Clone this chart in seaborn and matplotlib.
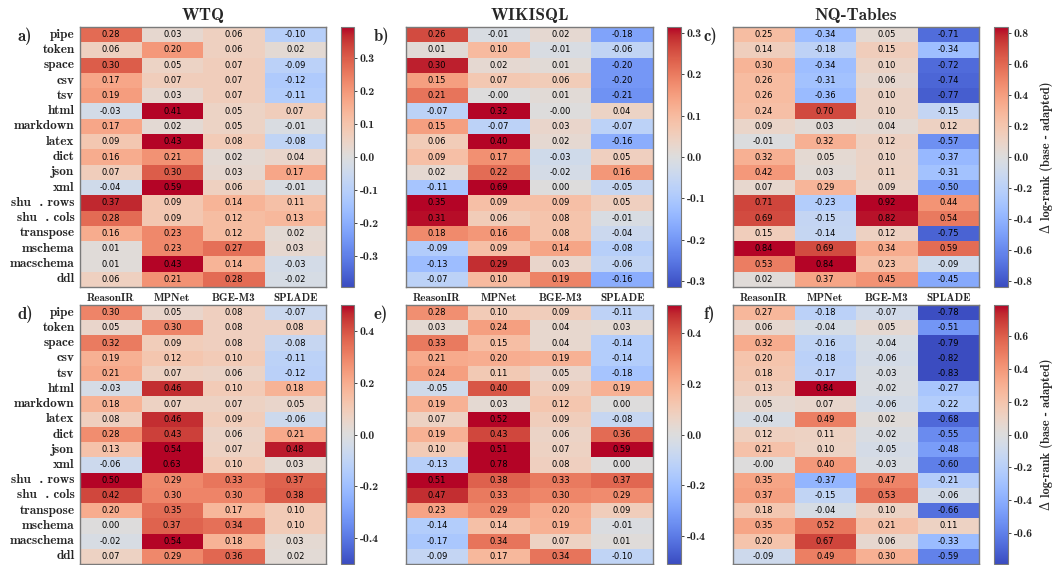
import numpy as np
import pandas as pd
import matplotlib
matplotlib.use("Agg")
import matplotlib.pyplot as plt
import seaborn as sns

sns.set_style("white")
plt.rcParams["font.family"] = ["cmb10", "DejaVu Serif"]
plt.rcParams["axes.unicode_minus"] = False

formats = ["pipe", "token", "space", "csv", "tsv", "html", "markdown", "latex",
           "dict", "json", "xml", "shu  . rows", "shu  . cols", "transpose",
           "mschema", "macschema", "ddl"]
models = ["ReasonIR", "MPNet", "BGE-M3", "SPLADE"]
datasets = ["WTQ", "WIKISQL", "NQ-Tables"]

# top row
wtq_top = [
    [0.28, 0.03, 0.06, -0.10], [0.06, 0.20, 0.06, 0.02], [0.30, 0.05, 0.07, -0.09],
    [0.17, 0.07, 0.07, -0.12], [0.19, 0.03, 0.07, -0.11], [-0.03, 0.41, 0.05, 0.07],
    [0.17, 0.02, 0.05, -0.01], [0.09, 0.43, 0.08, -0.08], [0.16, 0.21, 0.02, 0.04],
    [0.07, 0.30, 0.03, 0.17], [-0.04, 0.59, 0.06, -0.01], [0.37, 0.09, 0.14, 0.11],
    [0.28, 0.09, 0.12, 0.13], [0.16, 0.23, 0.12, 0.02], [0.01, 0.23, 0.27, 0.03],
    [0.01, 0.43, 0.14, -0.03], [0.06, 0.21, 0.28, -0.02]]
wikisql_top = [
    [0.26, -0.01, 0.02, -0.18], [0.01, 0.10, -0.01, -0.06], [0.30, 0.02, 0.01, -0.20],
    [0.15, 0.07, 0.06, -0.20], [0.21, -0.0, 0.01, -0.21], [-0.07, 0.32, -0.0, 0.04],
    [0.15, -0.07, 0.03, -0.07], [0.06, 0.40, 0.02, -0.16], [0.09, 0.17, -0.03, 0.05],
    [0.02, 0.22, -0.02, 0.16], [-0.11, 0.69, 0.00, -0.05], [0.35, 0.09, 0.09, 0.05],
    [0.31, 0.06, 0.08, -0.01], [0.18, 0.16, 0.08, -0.04], [-0.09, 0.09, 0.14, -0.08],
    [-0.13, 0.29, 0.03, -0.06], [-0.07, 0.10, 0.19, -0.16]]
nq_top = [
    [0.25, -0.34, 0.05, -0.71], [0.14, -0.18, 0.15, -0.34], [0.30, -0.34, 0.10, -0.72],
    [0.26, -0.31, 0.06, -0.74], [0.26, -0.36, 0.10, -0.77], [0.24, 0.70, 0.10, -0.15],
    [0.09, 0.03, 0.04, 0.12], [-0.01, 0.32, 0.12, -0.57], [0.32, 0.05, 0.10, -0.37],
    [0.42, 0.03, 0.11, -0.31], [0.07, 0.29, 0.09, -0.50], [0.71, -0.23, 0.92, 0.44],
    [0.69, -0.15, 0.82, 0.54], [0.15, -0.14, 0.12, -0.75], [0.84, 0.69, 0.34, 0.59],
    [0.53, 0.84, 0.23, -0.09], [0.02, 0.37, 0.45, -0.45]]

# bottom row
wtq_bottom = [
    [0.30, 0.05, 0.08, -0.07], [0.05, 0.30, 0.08, 0.08], [0.32, 0.09, 0.08, -0.08],
    [0.19, 0.12, 0.10, -0.11], [0.21, 0.07, 0.06, -0.12], [-0.03, 0.46, 0.10, 0.18],
    [0.18, 0.07, 0.07, 0.05], [0.08, 0.46, 0.09, -0.06], [0.28, 0.43, 0.06, 0.21],
    [0.13, 0.54, 0.07, 0.48], [-0.06, 0.63, 0.10, 0.03], [0.50, 0.29, 0.33, 0.37],
    [0.42, 0.30, 0.30, 0.38], [0.20, 0.35, 0.17, 0.10], [0.00, 0.37, 0.34, 0.10],
    [-0.02, 0.54, 0.18, 0.03], [0.07, 0.29, 0.36, 0.02]]
wikisql_bottom = [
    [0.28, 0.10, 0.09, -0.11], [0.03, 0.24, 0.04, 0.03], [0.33, 0.15, 0.04, -0.14],
    [0.21, 0.20, 0.19, -0.14], [0.24, 0.11, 0.05, -0.18], [-0.05, 0.40, 0.09, 0.19],
    [0.19, 0.03, 0.12, 0.00], [0.07, 0.52, 0.09, -0.08], [0.19, 0.43, 0.06, 0.36],
    [0.10, 0.51, 0.07, 0.59], [-0.13, 0.78, 0.08, 0.00], [0.51, 0.38, 0.33, 0.37],
    [0.47, 0.33, 0.30, 0.29], [0.23, 0.29, 0.20, 0.09], [-0.14, 0.14, 0.19, -0.01],
    [-0.17, 0.34, 0.07, 0.01], [-0.09, 0.17, 0.34, -0.10]]
nq_bottom = [
    [0.27, -0.18, -0.07, -0.78], [0.06, -0.04, 0.05, -0.51], [0.32, -0.16, -0.04, -0.79],
    [0.20, -0.18, -0.06, -0.82], [0.18, -0.17, -0.03, -0.83], [0.13, 0.84, -0.02, -0.27],
    [0.05, 0.07, -0.06, -0.22], [-0.04, 0.49, 0.02, -0.68], [0.12, 0.11, -0.02, -0.55],
    [0.21, 0.10, -0.05, -0.48], [-0.0, 0.40, -0.03, -0.60], [0.35, -0.37, 0.47, -0.21],
    [0.37, -0.15, 0.53, -0.06], [0.18, -0.04, 0.10, -0.66], [0.35, 0.52, 0.21, 0.11],
    [0.20, 0.67, 0.06, -0.33], [-0.09, 0.49, 0.30, -0.59]]

# symmetric colour limits per panel
limits = [0.395, 0.315, 0.84, 0.50, 0.51, 0.79]
panel_tags = ["a)", "b)", "c)", "d)", "e)", "f)"]

W, H = 1054, 565
fig = plt.figure(figsize=(W / 100, H / 100), dpi=100)


def px_axes(x0, y0, x1, y1):
    return fig.add_axes([x0 / W, 1 - y1 / H, (x1 - x0) / W, (y1 - y0) / H])


heat_x = [(80, 326), (406, 653), (733, 979)]
cbar_x = [(341, 354), (667, 681), (994, 1008)]
tag_xs = [17, 374, 704]
row_y = [(27, 287), (305, 564)]
tables = [[wtq_top, wikisql_top, nq_top], [wtq_bottom, wikisql_bottom, nq_bottom]]

for r in range(2):
    for c in range(3):
        k = r * 3 + c
        ax = px_axes(heat_x[c][0], row_y[r][0], heat_x[c][1], row_y[r][1])
        cax = px_axes(cbar_x[c][0], row_y[r][0], cbar_x[c][1], row_y[r][1])
        df = pd.DataFrame(np.array(tables[r][c], dtype=float), index=formats, columns=models)
        v = limits[k]
        sns.heatmap(df, ax=ax, cbar_ax=cax, cmap="coolwarm", vmin=-v, vmax=v,
                    annot=True, fmt=".2f",
                    annot_kws={"size": 6, "color": "black", "family": "DejaVu Sans"})
        for s in ax.spines.values():
            s.set_visible(True)
            s.set_color("#7a7a7a")
            s.set_linewidth(1.0)
        ax.tick_params(axis="y", length=2.5, width=0.6, pad=1.5, labelsize=9.5)
        ax.tick_params(axis="x", length=2.5, width=0.6, pad=1.5, labelsize=8)
        ax.set_xlabel("")
        ax.set_ylabel("")
        if c == 0:
            ax.set_yticklabels(formats, rotation=0)
        else:
            ax.set_yticklabels([])
        if r == 0:
            ax.set_xticklabels(models, rotation=0)
            ax.set_title(datasets[c], fontsize=12.5, pad=5)
        else:
            ax.set_xticklabels([])
            ax.tick_params(axis="x", length=0)
        cax.tick_params(labelsize=8.5, length=2.5, width=0.6, pad=1.5)
        cbar = ax.collections[0].colorbar
        cbar.outline.set_edgecolor("#7a7a7a")
        cbar.outline.set_linewidth(0.8)
        if c == 2:
            cax.set_ylabel("\u0394 log-rank (base - adapted)", fontsize=9, labelpad=5,
                           family=["cmb10", "DejaVu Serif"])
        fig.text(tag_xs[c] / W, 1 - (row_y[r][0] + 9) / H, panel_tags[k], fontsize=12,
                 va="center", ha="left")

fig.savefig("out.png", dpi=100)
